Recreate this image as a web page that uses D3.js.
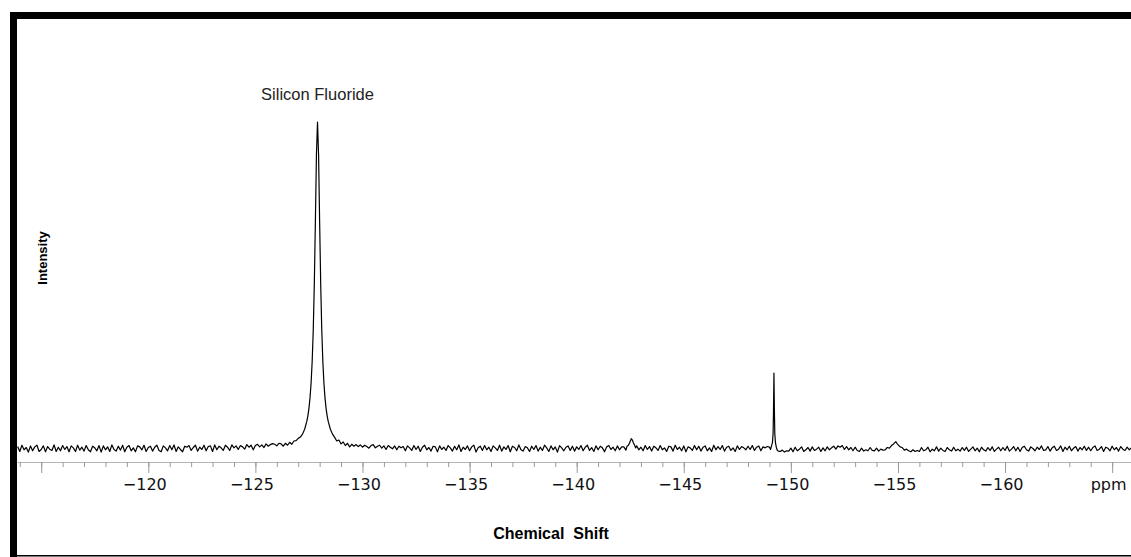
<!DOCTYPE html>
<html>
<head>
<meta charset="utf-8">
<script src="https://cdn.jsdelivr.net/npm/d3@7"></script>
<style>
	body { margin: 0; background: #fff; }
	svg { display: block; background: #fff; }
	.spectrum { fill: none; stroke: #000; stroke-width: 1.2; stroke-linejoin: round; }
	.axis .domain { stroke: #b4b4b4; }
	.axis .tick line { stroke: #9a9a9a; }
	.axis text { font-family: "DejaVu Sans", sans-serif; font-size: 16px; fill: #111; }
	.label { font-family: "Liberation Sans", Arial, sans-serif; }
</style>
</head>
<body>
<svg id="nmr-plot"></svg>
<script>
const WIDTH = 1131;
const HEIGHT = 557;

// baseline readings, one every 0.1 ppm starting at -113.9; null where a peak list takes over
const SHIFT_START = -113.9;
const SHIFT_STEP = 0.1;
const baselineIntensity = [
	.6, -.9, 1, -.4, .3, -1.1, .8, -.7, .5, 1, -.9, -.3, .8, -1, .6, -.2, -.6, 1.1, -.9, .4,
	-.7, .9, -.3, .6, -1, .8, .2, -.9, 1, -.5, .4, -.8, .9, -.4, -1, .7, .2, -.7, .9, -1.1,
	.8, -.4, .5, -.9, 1.1, -.3, -.8, .7, -.5, 1, -1, .4, .9, -.7, .2, -1, .8, .5, -.4, 1,
	-.9, .3, .7, -.8, .4, 1, -.6, -1, .8, .2, -.7, .9, -.4, 1.1, -.9, .5, -.3, -1, .7, .4,
	.9, -.6, .3, 1, -.8, .4, -.3, 1, -.7, .6, .8, -.9, 1.1, -.4, .7, .2, -.6, 1, .4, -.6,
	1.1, .2, .8, -.3, .9, .5, -.2, 1.2, .4, 1, -.4, .9, 1.3, .5, 1.1, .3, 1.4, .7, 1.2, 1.5,
	1.3, .8, 1.6, null, null, null, null, null, null, null, null, null, null, null, null, null, null, null, null, null,
	null, null, null, null, null, null, null, null, null, null, null, null, null, null, null, null, null, null, 1.2, .6,
	1.1, .4, 1, .6, .1, .9, 1.2, .2, .7, 1, .1, .8, -.3, .9, .4, -.1, .8, -.4, .7, .2,
	.6, -.7, .8, .2, -.6, .9, -.3, .7, -.9, .4, 1, -.4, .3, -.8, .7, .5, -1, .8, -.3, .4,
	-.6, .9, .2, -.8, .7, -.4, 1.1, -.9, .4, -.3, .8, -.7, .5, 1, -1.1, .2, .7, -.6, .9, -.4,
	.4, -.9, .8, .2, -.6, 1, -.8, .5, -.3, .9, -1, .7, .3, -.7, 1.1, -.4, -.8, .6, .2, -.9,
	.7, -.3, .9, -.8, .4, -.6, 1, .2, -.9, .8, -.4, .5, -1.1, .9, .2, -.7, .4, .8, -.6, .7,
	-.8, .5, -.3, .9, -.7, .4, 1, -.6, .3, -.9, .8, -.4, .7, .2, -1, .5, .9, -.3, .4, -.7,
	.8, -.4, .5, null, null, null, null, null, null, null, null, .4, -.7, .9, -.3, .6, -.8, .7, .2, -.6,
	.9, -.4, .2, -.9, .7, .5, -.8, 1, -.3, .4, -.7, .8, -1, .5, .2, -.6, .9, -.4, .7, -.8,
	.4, .8, -.7, .2, -.9, 1, -.4, .6, -.3, .9, -.8, .4, .7, -.6, .2, -.9, .8, -.3, .6, .2,
	-.4, .7, -.3, .9, -.6, .4, .8, -.7, .5, .2, .6, null, null, null, null, null, -.9, -.5, -1.1, -.7,
	-.8, .1, -1, .4, -.7, -.2, .5, -.9, -.4, .3, -.8, .5, -.6, -.2, .4, -.9, .2, -.7, .5, -.4,
	.2, .7, -.2, .8, .4, .9, -.3, .6, -.4, .3, -.7, .4, -.6, -.9, .1, -.8, -.4, -.7, .3, -.6,
	-.7, .1, -.8, -.2, -.5, null, null, null, null, null, null, null, null, null, null, null, -.7, -1, -.4, -.9,
	-.6, -.9, .3, -.7, -.4, .4, -1, -.2, -.7, .5, -.8, .1, -.6, -.9, .3, -.4, -.8, .4, -.7, -.2,
	-.8, .3, -.6, .4, -.9, -.2, .5, -.7, .1, -1, .4, -.4, -.8, .3, -.6, .5, -.9, -.2, .4, -.7,
	.3, -.6, .7, -.8, -.2, .6, -.7, .4, -.9, .3, .7, -.4, -.8, .5, 0, -.7, .4, -.3, .8, -.6,
	-.4, .6, -.8, .2, .7, -.6, -.2, .8, -.9, .4, -.4, .7, -.7, .1, .6, -.8, .3, -.4, .7, -.6,
	.4, -.7, .3, .8, -.6, -.2, .6, -.9, .4, .1, -.7, .7, -.4, .3, -.8, .6, -.2, -.6, .4, -.4,
	.2,
];

// [ppm, intensity] read around each peak
const siliconFluoridePeak = [
	[-126.2, 1.4], [-126.3, .7], [-126.4, 1.6], [-126.5, 1.0], [-126.6, 1.9], [-126.7, 1.3],
	[-126.8, 2.3], [-126.9, 2.4], [-127.0, 3.1], [-127.1, 3.5], [-127.2, 4.4], [-127.3, 5.9],
	[-127.4, 8.3], [-127.45, 10], [-127.5, 12.3], [-127.55, 15.5], [-127.6, 20], [-127.65, 26.5],
	[-127.7, 36], [-127.75, 50], [-127.8, 69.2], [-127.85, 90], [-127.9, 100], [-127.95, 90],
	[-128.0, 69.2], [-128.05, 50], [-128.1, 36], [-128.15, 26.5], [-128.2, 20], [-128.25, 15.5],
	[-128.3, 12.3], [-128.35, 10], [-128.4, 8.3], [-128.5, 5.9], [-128.6, 4.4], [-128.7, 3.4],
	[-128.8, 2.3], [-128.9, 2.6], [-129.0, 1.4], [-129.1, 2.0], [-129.2, .9], [-129.3, 1.6],
	[-129.4, .5], [-129.5, 1.3], [-129.6, .7],
];
const peak142 = [
	[-142.2, .5], [-142.3, -.5], [-142.35, .7], [-142.4, .9], [-142.45, 1.4], [-142.5, 2.2],
	[-142.55, 3], [-142.6, 2.6], [-142.65, 1.7], [-142.7, 1.1], [-142.75, .2], [-142.8, .8],
	[-142.9, -.4],
];
const peak149 = [
	[-149.0, .4], [-149.05, -.3], [-149.1, .9], [-149.14, 1.8], [-149.17, 4.5], [-149.19, 12],
	[-149.21, 23.1], [-149.23, 12], [-149.25, 4.5], [-149.28, 1.8], [-149.32, .4], [-149.37, -.6],
	[-149.42, -.8],
];
const peak155 = [
	[-154.4, -.4], [-154.5, .3], [-154.6, .1], [-154.7, .9], [-154.8, 1.4], [-154.85, 1.8],
	[-154.9, 2.1], [-154.95, 1.6], [-155.0, 1.2], [-155.1, .5], [-155.2, .3], [-155.3, -.5],
	[-155.4, -.2],
];

const minorTicks = d3.range(-114, -166, -1);
const majorTicks = [-115, -120, -125, -130, -135, -140, -145, -150, -155, -160, -165];
const labelledTicks = [-120, -125, -130, -135, -140, -145, -150, -155, -160];
const UNIT_TICK = -165;
const UNIT_LABEL = "ppm";
const peakLabel = { shift: -127.9, text: "Silicon Fluoride" };

const plotLeft = 17;
const plotTop = 19;
const axisY = 462;

const xScale = d3.scaleLinear([-113.87, -165.88], [plotLeft, WIDTH]);
const yScale = d3.scaleLinear([0, 100], [448.5, 122]);

const svg = d3.select("#nmr-plot")
	.attr("width", WIDTH)
	.attr("height", HEIGHT);

svg.append("clipPath")
	.attr("id", "plot-clip")
	.append("rect")
	.attr("x", plotLeft)
	.attr("y", plotTop)
	.attr("width", WIDTH - plotLeft)
	.attr("height", axisY - plotTop);

// combine the baseline grid with the peak readings
const points = baselineIntensity
	.map((v, i) => [SHIFT_START - i * SHIFT_STEP, v])
	.filter(d => d[1] !== null)
	.concat(siliconFluoridePeak, peak142, peak149, peak155)
	.sort((a, b) => b[0] - a[0]);

const line = d3.line()
	.x(d => xScale(d[0]))
	.y(d => yScale(d[1]));

svg.append("path")
	.datum(points)
	.attr("class", "spectrum")
	.attr("clip-path", "url(#plot-clip)")
	.attr("d", line);

// x axis: minor ticks every ppm, major ticks every 5
svg.append("g")
	.attr("class", "axis")
	.attr("transform", `translate(0,${axisY})`)
	.call(d3.axisBottom(xScale).tickValues(minorTicks).tickSize(5).tickSizeOuter(0).tickFormat(""));

const majorAxis = svg.append("g")
	.attr("class", "axis")
	.attr("transform", `translate(0,${axisY})`)
	.call(d3.axisBottom(xScale)
		.tickValues(majorTicks)
		.tickSize(11)
		.tickSizeOuter(0)
		.tickFormat(d => {
			if (d === UNIT_TICK) return UNIT_LABEL;
			return labelledTicks.includes(d) ? "\u2212" + Math.abs(d) : "";
		}));
majorAxis.select(".domain").remove();
majorAxis.selectAll("text")
	.attr("y", 28)
	.attr("dy", 0)
	.attr("dx", -4);

// labels
svg.append("text")
	.attr("class", "label")
	.attr("x", xScale(peakLabel.shift))
	.attr("y", 100)
	.attr("text-anchor", "middle")
	.attr("font-size", 16.5)
	.attr("fill", "#222")
	.text(peakLabel.text);

svg.append("text")
	.attr("class", "label")
	.attr("transform", "translate(47,258) rotate(-90)")
	.attr("text-anchor", "middle")
	.attr("font-size", 13)
	.attr("font-weight", "bold")
	.text("Intensity");

svg.append("text")
	.attr("class", "label")
	.attr("x", 551)
	.attr("y", 539)
	.attr("text-anchor", "middle")
	.attr("font-size", 16)
	.attr("font-weight", "bold")
	.style("white-space", "pre")
	.text("Chemical  Shift");

// frame: heavy top and left edges, thin bottom edge
const frame = [
	{ x: 10, y: 12, w: WIDTH - 10, h: 7 },
	{ x: 10, y: 12, w: 7, h: HEIGHT - 12 },
	{ x: 10, y: 555, w: WIDTH - 10, h: 1.5 },
];
svg.selectAll(".frame")
	.data(frame)
	.join("rect")
	.classed("frame", true)
	.attr("x", d => d.x)
	.attr("y", d => d.y)
	.attr("width", d => d.w)
	.attr("height", d => d.h)
	.attr("fill", "#000");
</script>
</body>
</html>
